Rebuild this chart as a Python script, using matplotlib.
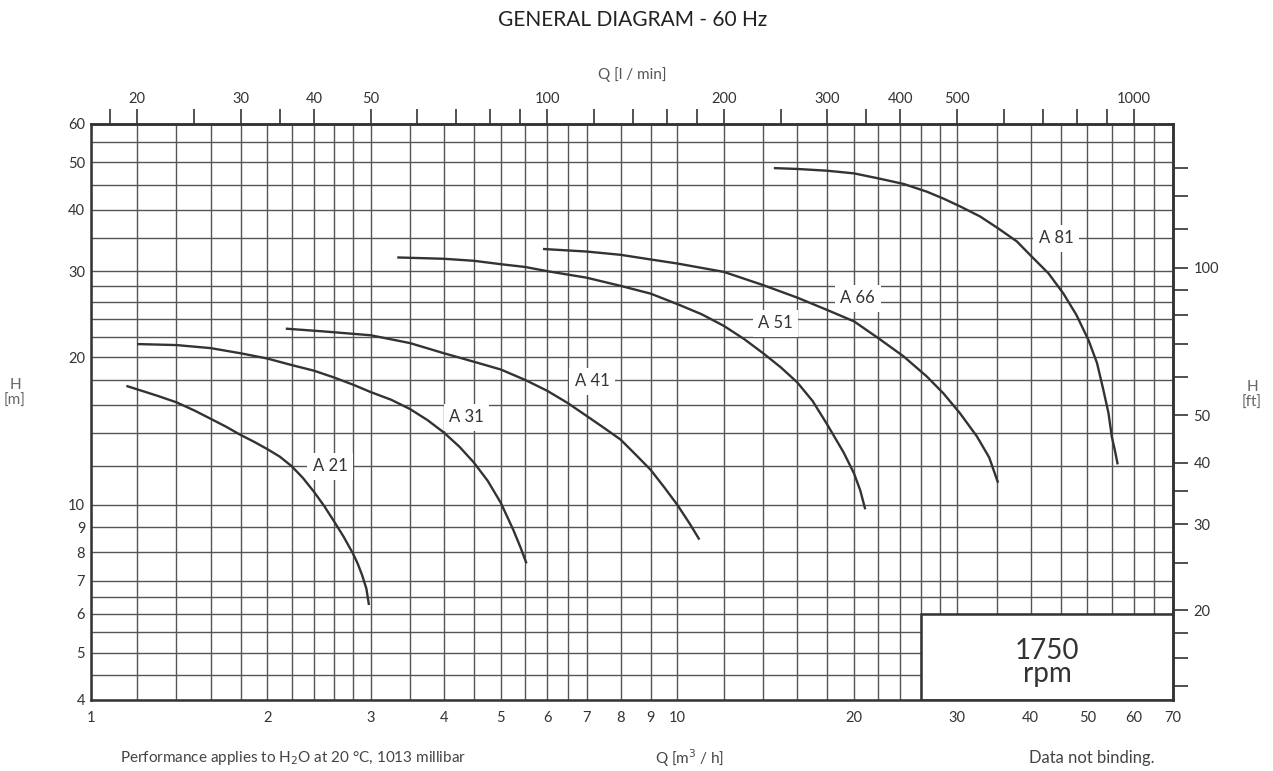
import numpy as np
import matplotlib
matplotlib.use('Agg')
import matplotlib.pyplot as plt
from matplotlib.ticker import FixedLocator, NullFormatter, FuncFormatter
from matplotlib.patches import Rectangle

plt.rcParams['font.family'] = ['Lato', 'DejaVu Sans']

# pump curves, Q [m3/h] vs H [m]
q_a21 = [1.15, 1.3, 1.4, 1.5, 1.6, 1.7, 1.8, 1.9, 2.0, 2.1, 2.2, 2.3, 2.4,
         2.5, 2.6, 2.7, 2.8, 2.85, 2.9, 2.95, 2.98]
h_a21 = [17.5, 16.7, 16.2, 15.6, 15.0, 14.45, 13.9, 13.45, 13.0, 12.55, 12.0,
         11.35, 10.65, 9.95, 9.25, 8.6, 7.95, 7.6, 7.2, 6.75, 6.25]

q_a31 = [1.2, 1.4, 1.6, 1.8, 2.0, 2.2, 2.4, 2.6, 2.8, 3.0, 3.25, 3.5, 3.75,
         4.0, 4.25, 4.5, 4.75, 5.0, 5.25, 5.4, 5.53]
h_a31 = [21.3, 21.2, 20.9, 20.4, 19.9, 19.3, 18.8, 18.2, 17.6, 17.0, 16.4,
         15.7, 14.9, 14.05, 13.15, 12.2, 11.2, 10.1, 8.9, 8.2, 7.6]

q_a41 = [2.15, 2.5, 3.0, 3.5, 4.0, 4.5, 5.0, 5.5, 6.0, 6.5, 7.0, 7.5, 8.0,
         8.5, 9.0, 9.5, 10.0, 10.5, 10.9]
h_a41 = [22.9, 22.6, 22.2, 21.4, 20.4, 19.6, 18.9, 18.0, 17.1, 16.15, 15.2,
         14.36, 13.6, 12.65, 11.8, 10.86, 10.0, 9.15, 8.5]

q_a51 = [3.33, 4.0, 4.5, 5.0, 5.5, 6.0, 7.0, 8.0, 9.0, 10.0, 11.0, 12.0, 13.0,
         14.0, 15.0, 16.0, 17.0, 18.0, 19.2, 20.0, 20.5, 20.9]
h_a51 = [32.0, 31.8, 31.5, 31.0, 30.6, 30.0, 29.1, 28.0, 27.0, 25.7, 24.5,
         23.2, 21.8, 20.4, 19.1, 17.8, 16.3, 14.6, 12.8, 11.6, 10.7, 9.8]

q_a66 = [5.9, 7.0, 8.0, 9.0, 10.0, 12.0, 14.0, 16.0, 18.0, 20.0, 22.0, 24.3,
         26.6, 28.4, 30.3, 32.4, 34.0, 35.2]
h_a66 = [33.3, 32.9, 32.4, 31.7, 31.1, 29.9, 28.1, 26.5, 25.0, 23.7, 21.9,
         20.1, 18.3, 16.9, 15.4, 13.8, 12.5, 11.1]

q_a81 = [14.6, 16, 18, 20, 22, 24.3, 26.6, 28.4, 30.3, 32.8, 35.2, 37.9, 40.2,
         42.9, 45.5, 47.9, 50.2, 51.9, 53.2, 54.3, 55.0, 55.7, 56.3]
h_a81 = [48.7, 48.5, 48.1, 47.5, 46.4, 45.2, 43.6, 42.2, 40.7, 38.8, 36.7,
         34.5, 32.1, 29.7, 27.0, 24.4, 21.7, 19.5, 17.2, 15.4, 13.8, 12.9, 12.1]

curves = [(q_a21, h_a21), (q_a31, h_a31), (q_a41, h_a41),
          (q_a51, h_a51), (q_a66, h_a66), (q_a81, h_a81)]

label_names = ['A 21', 'A 31', 'A 41', 'A 51', 'A 66', 'A 81']
label_q = [2.56, 4.37, 7.15, 14.7, 20.3, 44.2]
label_h = [12.0, 15.1, 17.9, 23.5, 26.4, 35.0]

# axis ticks / grid
x_major = [1, 2, 3, 4, 5, 6, 7, 8, 9, 10, 20, 30, 40, 50, 60, 70]
x_minor = [1.2, 1.4, 1.6, 1.8, 2.2, 2.4, 2.6, 2.8, 3.5, 4.5, 5.5, 6.5,
           12, 14, 16, 18, 22, 24, 26, 28, 35, 45, 55, 65]
y_major = [4, 5, 6, 7, 8, 9, 10, 20, 30, 40, 50, 60]
y_minor = [4.5, 5.5, 6.5, 12, 14, 16, 18, 22, 24, 26, 28, 35, 45, 55]

lmin_major = [20, 30, 40, 50, 100, 200, 300, 400, 500, 1000]
lmin_minor = [18, 25, 35, 60, 70, 80, 90, 120, 140, 160, 180, 250, 350,
              600, 700, 800, 900]
ft_major = [20, 30, 40, 50, 100]
ft_minor = [14, 16, 18, 25, 35, 60, 70, 80, 90, 120, 140, 160]

dark = '#333333'
gfmt = FuncFormatter(lambda v, p: '%g' % v)

fig = plt.figure(figsize=(12.73, 7.71), dpi=100)
ax = fig.add_axes([0.0713, 0.0921, 0.8503, 0.7475])
ax.set_xscale('log')
ax.set_yscale('log')
ax.set_xlim(1, 70)
ax.set_ylim(4, 60)

ax.xaxis.set_major_locator(FixedLocator(x_major))
ax.xaxis.set_minor_locator(FixedLocator(x_minor))
ax.yaxis.set_major_locator(FixedLocator(y_major))
ax.yaxis.set_minor_locator(FixedLocator(y_minor))
ax.xaxis.set_major_formatter(gfmt)
ax.yaxis.set_major_formatter(gfmt)
ax.xaxis.set_minor_formatter(NullFormatter())
ax.yaxis.set_minor_formatter(NullFormatter())
ax.tick_params(which='both', length=0, labelsize=10.5, labelcolor=dark)
ax.tick_params(axis='x', pad=8)
ax.tick_params(axis='y', pad=4)
ax.set_axisbelow(True)
ax.grid(which='both', color='#555555', lw=1.0)
for s in ax.spines.values():
    s.set_color(dark)
    s.set_linewidth(1.8)

for q, h in curves:
    ax.plot(q, h, color=dark, lw=1.7, zorder=3, solid_capstyle='butt',
            solid_joinstyle='round')

for name, q, h in zip(label_names, label_q, label_h):
    ax.text(q, h, name, ha='center', va='center', fontsize=12, color=dark,
            zorder=4, bbox=dict(fc='white', ec='none', pad=4))

# rpm box
ax.add_patch(Rectangle((26, 4), 70 - 26, 6 - 4, fc='white', ec=dark,
                       lw=1.8, zorder=2))
ax.text(np.sqrt(26 * 70), 4.78, '1750\nrpm', ha='center',
        va='center', fontsize=20, color=dark, linespacing=0.85, zorder=4)

# secondary axes
top = ax.secondary_xaxis('top', functions=(lambda q: q * 1000.0 / 60.0,
                                           lambda l: l * 60.0 / 1000.0))
top.xaxis.set_major_locator(FixedLocator(lmin_major))
top.xaxis.set_minor_locator(FixedLocator(lmin_minor))
top.xaxis.set_major_formatter(gfmt)
top.xaxis.set_minor_formatter(NullFormatter())
top.tick_params(which='both', direction='out', length=10.5, width=1.2,
                color=dark, labelsize=10.5, labelcolor=dark, pad=2)
top.spines['top'].set_color(dark)
top.spines['top'].set_linewidth(1.8)

right = ax.secondary_yaxis('right', functions=(lambda m: m * 3.2808,
                                               lambda f: f / 3.2808))
right.yaxis.set_major_locator(FixedLocator(ft_major))
right.yaxis.set_minor_locator(FixedLocator(ft_minor))
right.yaxis.set_major_formatter(gfmt)
right.yaxis.set_minor_formatter(NullFormatter())
right.tick_params(which='both', direction='out', length=10.5, width=1.2,
                  color=dark, labelsize=10.5, labelcolor=dark, pad=4)
right.spines['right'].set_color(dark)
right.spines['right'].set_linewidth(1.8)

# texts around the chart
fig.text(0.497, 0.974, 'GENERAL DIAGRAM - 60 Hz', ha='center', va='center',
         fontsize=15, color='#222222')
fig.text(0.497, 0.903, 'Q [l / min]', ha='center', va='center',
         fontsize=11, color='#555555')
fig.text(0.0118, 0.49, 'H\n[m]', ha='center', va='center', fontsize=11,
         color='#666666')
fig.text(0.9835, 0.488, 'H\n[ft]', ha='center', va='center', fontsize=11,
         color='#666666')
fig.text(0.0943, 0.017, 'Performance applies to H$_2$O at 20 °C, 1013 millibar',
         ha='left', va='center', fontsize=11, color='#444444')
fig.text(0.542, 0.017, 'Q [m$^3$ / h]', ha='center', va='center',
         fontsize=11, color='#444444')
fig.text(0.907, 0.017, 'Data not binding.', ha='right', va='center',
         fontsize=12, color='#444444')

fig.savefig('out.png', dpi=100)
